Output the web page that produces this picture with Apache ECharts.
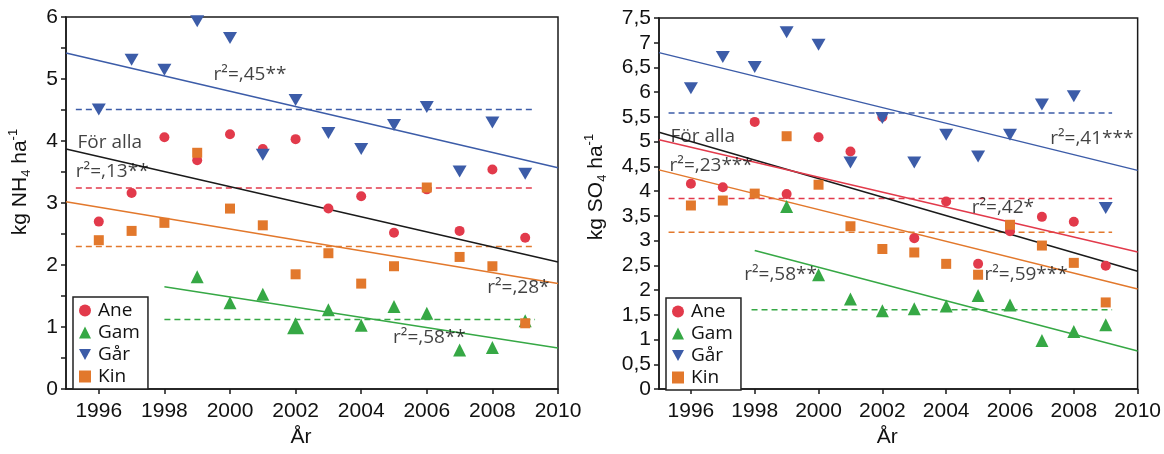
<!DOCTYPE html>
<html lang="sv">
<head>
<meta charset="utf-8">
<script src="https://cdn.jsdelivr.net/npm/echarts@6/dist/echarts.min.js"></script>
<style>
	html, body { margin: 0; padding: 0; background: #fff; }
	#chart { width: 1164px; height: 454px; }
</style>
</head>
<body>
<div id="chart"></div>
<script>
// år
var years = [1996, 1997, 1998, 1999, 2000, 2001, 2002, 2003, 2004, 2005, 2006, 2007, 2008, 2009];
var gamYears = [1999, 2000, 2001, 2002, 2003, 2004, 2005, 2006, 2007, 2008, 2009];
var xTicks = [1996, 1998, 2000, 2002, 2004, 2006, 2008, 2010];

// NH4 (vänster)
var nh4Ane = [2.70, 3.16, 4.06, 3.69, 4.11, 3.87, 4.03, 2.91, 3.11, 2.52, 3.22, 2.55, 3.54, 2.44];
var nh4Gam = [1.81, 1.39, 1.53, 1.02, 1.28, 1.03, 1.33, 1.22, 0.63, 0.67, 1.10];
var nh4Gar = [4.51, 5.31, 5.15, 5.93, 5.66, 3.78, 4.66, 4.13, 3.87, 4.26, 4.55, 3.51, 4.30, 3.47];
var nh4Kin = [2.40, 2.55, 2.68, 3.81, 2.91, 2.64, 1.85, 2.19, 1.70, 1.98, 3.25, 2.13, 1.98, 1.06];
// regressionslinjer [x0, y0, x1, y1]
var nh4TrendGar = [1995, 5.42, 2010, 3.57];
var nh4TrendAlla = [1995, 3.87, 2010, 2.05];
var nh4TrendKin = [1995, 3.02, 2010, 1.70];
var nh4TrendGam = [1998, 1.65, 2010, 0.66];
// medelvärden [x0, x1, y]
var nh4MeanGar = [1995.3, 2009.3, 4.51];
var nh4MeanAne = [1995.3, 2009.3, 3.24];
var nh4MeanKin = [1995.3, 2009.3, 2.30];
var nh4MeanGam = [1998, 2009.3, 1.12];
var nh4Notes = [
	[1999.5, 5.07, 'r²=,45**'],
	[1995.35, 3.98, 'För alla'],
	[1995.3, 3.51, 'r²=,13**'],
	[2007.84, 1.64, 'r²=,28*'],
	[2004.97, 0.83, 'r²=,58**']
];

// SO4 (höger)
var so4Ane = [4.15, 4.08, 5.40, 3.94, 5.09, 4.80, 5.50, 3.05, 3.79, 2.53, 3.19, 3.48, 3.38, 2.49];
var so4Gam = [3.69, 2.31, 1.82, 1.58, 1.62, 1.68, 1.89, 1.70, 0.98, 1.16, 1.30];
var so4Gar = [6.08, 6.71, 6.51, 7.21, 6.96, 4.58, 5.48, 4.58, 5.14, 4.70, 5.14, 5.75, 5.92, 3.66];
var so4Kin = [3.71, 3.81, 3.95, 5.11, 4.13, 3.29, 2.83, 2.76, 2.53, 2.31, 3.32, 2.90, 2.55, 1.75];
var so4TrendGar = [1995, 6.80, 2010, 4.42];
var so4TrendAlla = [1995, 5.19, 2010, 2.38];
var so4TrendAne = [1995, 5.04, 2010, 2.77];
var so4TrendKin = [1995, 4.43, 2010, 2.02];
var so4TrendGam = [1998, 2.80, 2010, 0.77];
var so4MeanGar = [1995.3, 2009.2, 5.58];
var so4MeanAne = [1995.3, 2009.2, 3.85];
var so4MeanKin = [1995.3, 2009.2, 3.17];
var so4MeanGam = [1997.9, 2009.2, 1.60];
var so4Notes = [
	[2007.26, 5.07, 'r²=,41***'],
	[1995.36, 5.11, 'För alla'],
	[1995.33, 4.52, 'r²=,23***'],
	[2004.8, 3.66, 'r²=,42*'],
	[1997.67, 2.31, 'r²=,58**'],
	[2005.2, 2.31, 'r²=,59***']
];

var RED = '#e23a4b', GREEN = '#36a845', BLUE = '#3c5ca8', ORANGE = '#e2782c', BLACK = '#1a1a1a';
var AXFONT = '"Liberation Sans", Arial, sans-serif';
var TXFONT = '"Open Sans", sans-serif';
var DOWN = 'path://M0,0L10,0L5,9Z';

function pts(xs, ys) {
	return xs.map(function (x, i) { return [x, ys[i]]; });
}

function trend(t, color, gi) {
	return {
		type: 'line', name: 't' + gi + color, xAxisIndex: gi, yAxisIndex: gi,
		data: [[t[0], t[1]], [t[2], t[3]]], symbol: 'none', z: 1,
		lineStyle: { color: color, width: 1.5 }, silent: true
	};
}

function mean(m, color, gi) {
	return {
		type: 'line', name: 'm' + gi + color, xAxisIndex: gi, yAxisIndex: gi,
		data: [[m[0], m[2]], [m[1], m[2]]], symbol: 'none', z: 1,
		lineStyle: { color: color, width: 1.5, type: [6, 4] }, silent: true
	};
}

function notes(list, gi) {
	return {
		type: 'scatter', name: 'n' + gi, xAxisIndex: gi, yAxisIndex: gi,
		symbolSize: 0, z: 5, silent: true,
		data: list.map(function (n) { return { value: [n[0], n[1]], text: n[2] }; }),
		label: {
			show: true, position: 'right', distance: 0,
			formatter: function (p) { return p.data.text; },
			fontFamily: TXFONT, fontSize: 19, color: '#111'
		}
	};
}

function dots(gi, xs, ane, gam, gar, kin, gamYs) {
	var gamData = pts(gamYs, gam);
	return [
		{ type: 'scatter', name: 'Ane', xAxisIndex: gi, yAxisIndex: gi, data: pts(xs, ane),
			symbol: 'circle', symbolSize: 10, itemStyle: { color: RED, opacity: 1 }, z: 3 },
		{ type: 'scatter', name: 'Gam', xAxisIndex: gi, yAxisIndex: gi,
			data: gamData.map(function (d) { return (gi === 0 && d[0] === 2002) ? { value: d, symbolSize: 17 } : d; }),
			symbol: 'triangle', symbolSize: 13, itemStyle: { color: GREEN, opacity: 1 }, z: 3 },
		{ type: 'scatter', name: 'Går', xAxisIndex: gi, yAxisIndex: gi, data: pts(xs, gar),
			symbol: 'triangle', symbolRotate: 180, symbolSize: [14, 12], itemStyle: { color: BLUE, opacity: 1 }, z: 3 },
		{ type: 'scatter', name: 'Kin', xAxisIndex: gi, yAxisIndex: gi, data: pts(xs, kin),
			symbol: 'rect', symbolSize: 10, itemStyle: { color: ORANGE, opacity: 1 }, z: 3 }
	];
}

function xAx(gi) {
	return {
		type: 'value', gridIndex: gi, min: 1995, max: 2010,
		name: 'År', nameLocation: 'middle', nameGap: 36,
		nameTextStyle: { fontFamily: AXFONT, fontSize: 21, color: '#111', padding: [0, 22, 0, 0] },
		axisLine: { lineStyle: { color: BLACK, width: 1.5 } },
		axisTick: { show: true, length: 5, customValues: xTicks, lineStyle: { color: BLACK, width: 1.5 } },
		axisLabel: {
			customValues: xTicks, margin: 12, fontFamily: AXFONT, fontSize: 21, color: '#111',
			formatter: function (v) { return String(v); }
		},
		splitLine: { show: false }
	};
}

function yAx(gi, max, fmt) {
	return {
		type: 'value', gridIndex: gi, min: 0, max: max, interval: 0.5,
		axisLine: { show: true, lineStyle: { color: BLACK, width: 1.5 } },
		axisTick: { show: true, length: 5, lineStyle: { color: BLACK, width: 1.5 } },
		axisLabel: { margin: 8, fontFamily: AXFONT, fontSize: 21, color: '#111', formatter: fmt },
		splitLine: { show: false }
	};
}

function legendAt(left, top) {
	return {
		left: left, top: top, orient: 'vertical', selectedMode: false,
		backgroundColor: '#fff', borderColor: '#222', borderWidth: 1.5,
		padding: [4, 8, 3, 6], itemGap: 3, itemWidth: 12, itemHeight: 12,
		textStyle: { fontFamily: TXFONT, fontSize: 19, color: '#111', padding: [0, 0, 0, 2] },
		data: [
			{ name: 'Ane', icon: 'circle' },
			{ name: 'Gam', icon: 'triangle' },
			{ name: 'Går', icon: DOWN },
			{ name: 'Kin', icon: 'rect' }
		]
	};
}

function yName(x, y, chem) {
	return {
		type: 'text', x: x, y: y, rotation: Math.PI / 2,
		style: {
			text: '{a|kg ' + chem + '}{b|4}{a| ha}{c|-1}',
			align: 'center', verticalAlign: 'middle', fill: '#111',
			rich: {
				a: { fontFamily: AXFONT, fontSize: 21, lineHeight: 26, verticalAlign: 'middle', fill: '#111' },
				b: { fontFamily: AXFONT, fontSize: 13, lineHeight: 26, verticalAlign: 'bottom', fill: '#111' },
				c: { fontFamily: AXFONT, fontSize: 13, lineHeight: 26, verticalAlign: 'top', fill: '#111' }
			}
		}
	};
}

var chart = echarts.init(document.getElementById('chart'), null, { renderer: 'canvas' });

chart.setOption({
	animation: false,
	backgroundColor: '#fff',
	grid: [
		{ left: 66, top: 17, width: 492, height: 372, show: true, borderColor: BLACK, borderWidth: 1.5, backgroundColor: 'transparent' },
		{ left: 659, top: 18, width: 488, height: 371, show: true, borderColor: BLACK, borderWidth: 1.5, backgroundColor: 'transparent' }
	],
	xAxis: [xAx(0), xAx(1)],
	yAxis: [
		yAx(0, 6, function (v) { return v % 1 === 0 ? String(v) : ''; }),
		yAx(1, 7.5, function (v) { return String(v).replace('.', ','); })
	],
	legend: [legendAt(73, 297), legendAt(666, 298)],
	graphic: [yName(20, 182, 'NH'), yName(596, 187, 'SO')],
	series: [].concat(
		[
			mean(nh4MeanGar, BLUE, 0), mean(nh4MeanAne, RED, 0), mean(nh4MeanKin, ORANGE, 0), mean(nh4MeanGam, GREEN, 0),
			trend(nh4TrendGar, BLUE, 0), trend(nh4TrendAlla, BLACK, 0), trend(nh4TrendKin, ORANGE, 0), trend(nh4TrendGam, GREEN, 0)
		],
		dots(0, years, nh4Ane, nh4Gam, nh4Gar, nh4Kin, gamYears),
		[notes(nh4Notes, 0)],
		[
			mean(so4MeanGar, BLUE, 1), mean(so4MeanAne, RED, 1), mean(so4MeanKin, ORANGE, 1), mean(so4MeanGam, GREEN, 1),
			trend(so4TrendGar, BLUE, 1), trend(so4TrendAlla, BLACK, 1), trend(so4TrendAne, RED, 1), trend(so4TrendKin, ORANGE, 1), trend(so4TrendGam, GREEN, 1)
		],
		dots(1, years, so4Ane, so4Gam, so4Gar, so4Kin, gamYears),
		[notes(so4Notes, 1)]
	)
});
</script>
</body>
</html>
